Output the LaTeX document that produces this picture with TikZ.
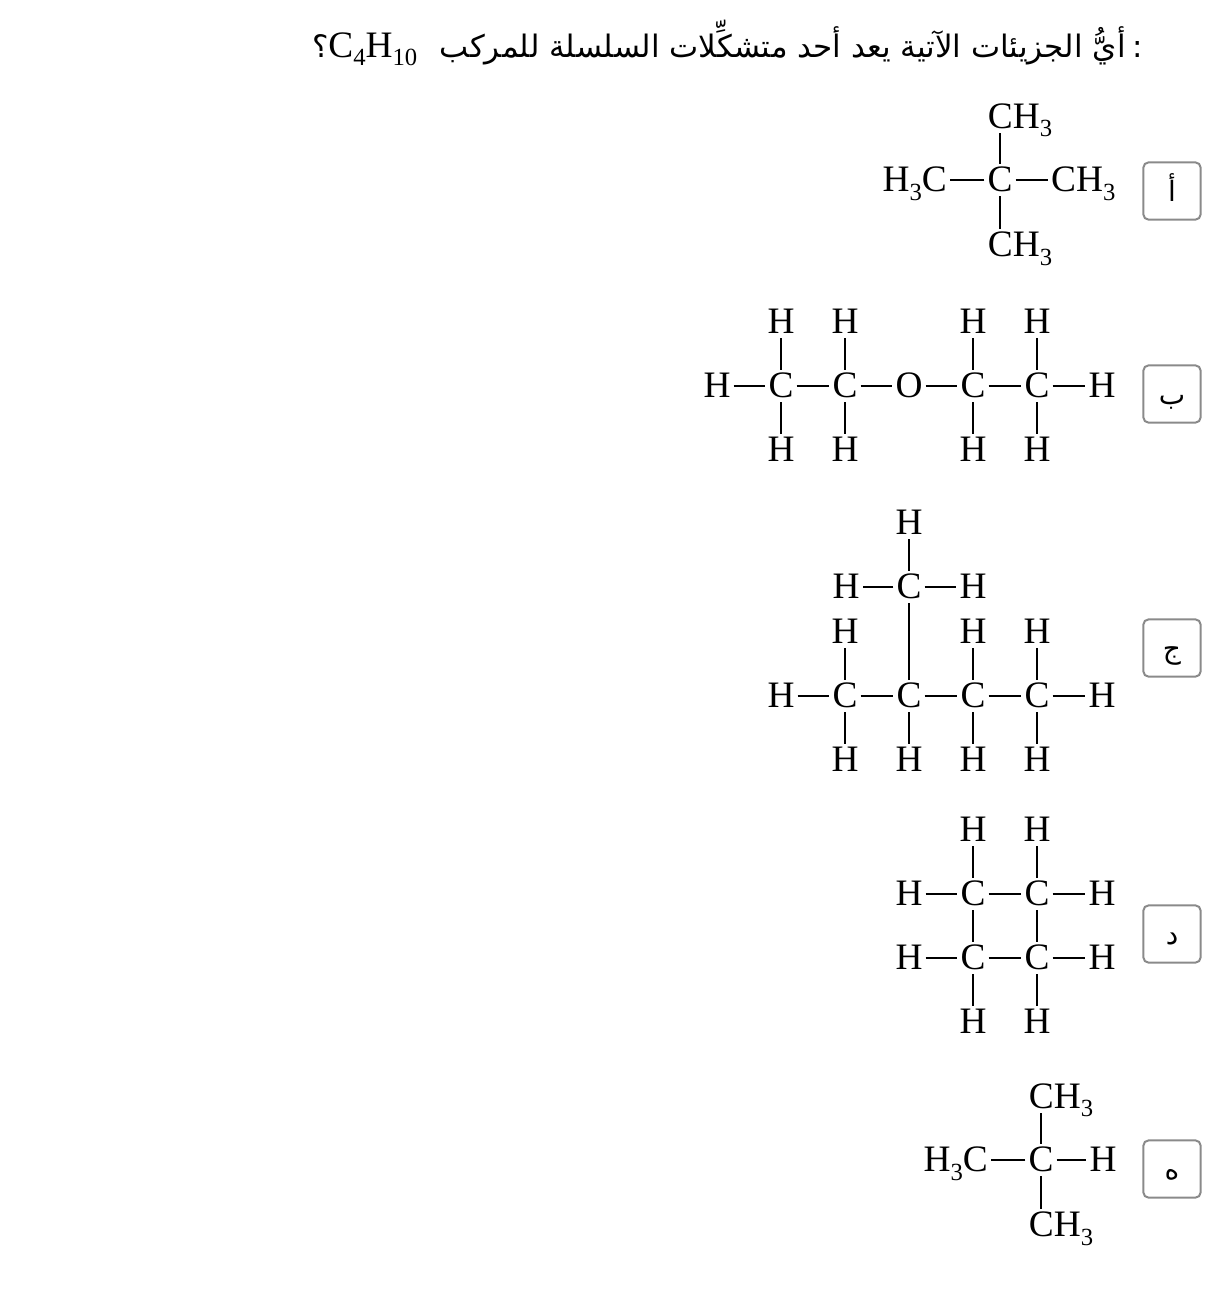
\documentclass[tikz,border=0pt]{standalone}
\usepackage{fontspec}
\setmainfont{Liberation Serif}
\newfontfamily\arabicfont[Script=Arabic]{DejaVu Sans}
\TeXXeTstate=1
\newcommand\subs[1]{\raisebox{-0.22em}{\fontsize{18.5}{18.5}\selectfont #1}}
\newcommand\arb{\arabicfont\fontsize{23.2}{23.2}\selectfont}
\tikzset{
  x=0.75pt,y=-0.75pt,
  atom/.style={inner sep=0pt,outer xsep=2.4pt,outer ysep=2.6pt,text height=18.5pt,text depth=0.6pt,font=\fontsize{28}{28}\selectfont},
  grp/.style={atom},
  bond/.style={draw=black,line width=1.5pt},
  optbox/.style={draw=optgray,line width=1.5pt,rounded corners=4pt,minimum width=43pt,minimum height=43pt,inner sep=0pt,text height=20pt,text depth=5pt,font=\arabicfont\fontsize{21}{21}\selectfont},
  heading/.style={inner sep=0pt,font=\fontsize{28}{28}\selectfont}
}
\definecolor{optgray}{HTML}{8A8A8A}
\begin{document}
\begin{tikzpicture}
\useasboundingbox (0,0) rectangle (1224,1290);
\node[heading,anchor=east] (q) at (1143,43) {\beginR{\arb :}\hspace{5pt}{\arb أيُّ الجزيئات الآتية يعد أحد متشكِّلات السلسلة للمركب }\hspace{9.5pt}\beginL C\subs{4}H\subs{10}\endL{\arb ؟}\endR};
% option boxes
\node[optbox] (oa) at (1172,191) {\beginR أ\endR};
\node[optbox] (ob) at (1172,394) {\beginR ب\endR};
\node[optbox] (oc) at (1172,648) {\beginR ج\endR};
\node[optbox] (od) at (1172,934) {\beginR د\endR};
\node[optbox] (oe) at (1172,1169) {\beginR ه\endR};
% molecule a
\node[atom] (a0) at (1000,180) {C};
\node[grp] (a1) at (1020,116.5) {CH\subs{3}};
\node[grp,anchor=east] (a2) at (950,180) {H\subs{3}C};
\node[grp,anchor=west] (a3) at (1048,180) {CH\subs{3}};
\node[grp] (a4) at (1020,245) {CH\subs{3}};
\draw[bond] (a0) -- (a0 |- a1.south);
\draw[bond] (a0) -- (a2);
\draw[bond] (a0) -- (a3);
\draw[bond] (a0) -- (a0 |- a4.north);
% molecule b
\foreach \n/\x in {1/781,2/845,4/973,5/1037}{
  \node[atom] (bt\n) at (\x,322) {H};
  \node[atom] (bc\n) at (\x,386) {C};
  \node[atom] (bb\n) at (\x,450) {H};
  \draw[bond] (bt\n) -- (bc\n);
  \draw[bond] (bb\n) -- (bc\n);
}
\node[atom] (bl) at (717,386) {H};
\node[atom] (bo) at (909,386) {O};
\node[atom] (br) at (1102,386) {H};
\draw[bond] (bl) -- (bc1);
\draw[bond] (bc1) -- (bc2);
\draw[bond] (bc2) -- (bo);
\draw[bond] (bo) -- (bc4);
\draw[bond] (bc4) -- (bc5);
\draw[bond] (bc5) -- (br);
% molecule c
\foreach \n/\x in {1/845,3/973,4/1037}{
  \node[atom] (ct\n) at (\x,632) {H};
  \node[atom] (cc\n) at (\x,696) {C};
  \node[atom] (cb\n) at (\x,760) {H};
  \draw[bond] (ct\n) -- (cc\n);
  \draw[bond] (cb\n) -- (cc\n);
}
\node[atom] (cc2) at (909,696) {C};
\node[atom] (cb2) at (909,760) {H};
\node[atom] (cm) at (909,587) {C};
\node[atom] (cmt) at (909,523) {H};
\node[atom] (cml) at (846,587) {H};
\node[atom] (cmr) at (973,587) {H};
\node[atom] (cl) at (781,696) {H};
\node[atom] (cr) at (1102,696) {H};
\draw[bond] (cb2) -- (cc2);
\draw[bond] (cc2) -- (cm);
\draw[bond] (cm) -- (cmt);
\draw[bond] (cm) -- (cml);
\draw[bond] (cm) -- (cmr);
\draw[bond] (cl) -- (cc1);
\draw[bond] (cc1) -- (cc2);
\draw[bond] (cc2) -- (cc3);
\draw[bond] (cc3) -- (cc4);
\draw[bond] (cc4) -- (cr);
% molecule d
\foreach \n/\x in {1/973,2/1037}{
  \node[atom] (dt\n) at (\x,830) {H};
  \node[atom] (du\n) at (\x,894) {C};
  \node[atom] (dv\n) at (\x,958) {C};
  \node[atom] (db\n) at (\x,1022) {H};
  \draw[bond] (dt\n) -- (du\n);
  \draw[bond] (du\n) -- (dv\n);
  \draw[bond] (dv\n) -- (db\n);
}
\node[atom] (dul) at (909,894) {H};
\node[atom] (dur) at (1102,894) {H};
\node[atom] (dvl) at (909,958) {H};
\node[atom] (dvr) at (1102,958) {H};
\draw[bond] (dul) -- (du1);
\draw[bond] (du1) -- (du2);
\draw[bond] (du2) -- (dur);
\draw[bond] (dvl) -- (dv1);
\draw[bond] (dv1) -- (dv2);
\draw[bond] (dv2) -- (dvr);
% molecule e
\node[atom] (e0) at (1041,1160) {C};
\node[grp] (e1) at (1061,1096.5) {CH\subs{3}};
\node[grp,anchor=east] (e2) at (991,1160) {H\subs{3}C};
\node[atom] (e3) at (1103,1160) {H};
\node[grp] (e4) at (1061,1225) {CH\subs{3}};
\draw[bond] (e0) -- (e0 |- e1.south);
\draw[bond] (e0) -- (e2);
\draw[bond] (e0) -- (e3);
\draw[bond] (e0) -- (e0 |- e4.north);
\end{tikzpicture}
\end{document}
